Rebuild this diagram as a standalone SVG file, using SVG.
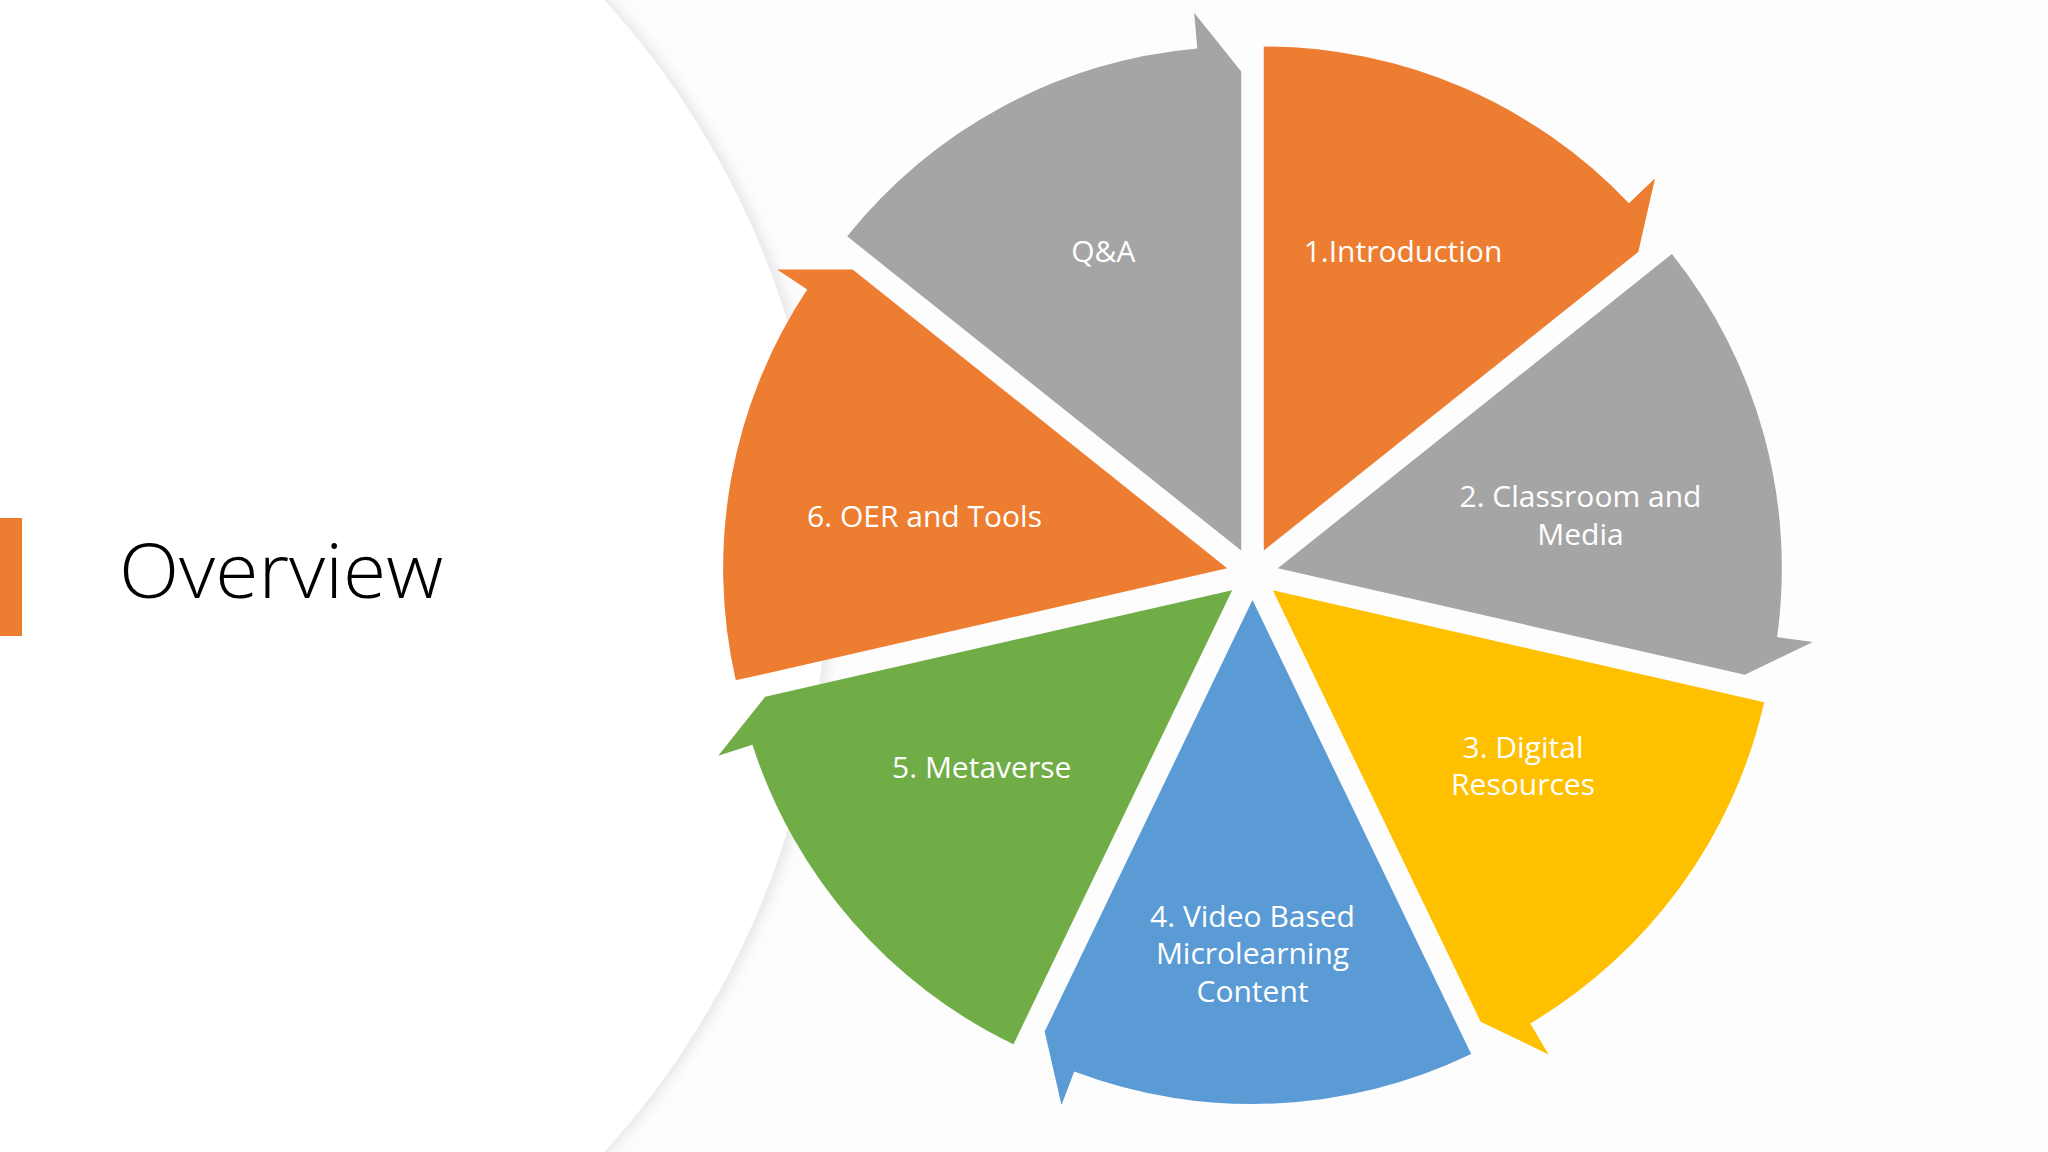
<svg xmlns="http://www.w3.org/2000/svg" width="2048" height="1152" viewBox="0 0 2048 1152">
  <defs>
    <filter id="circShadow" x="-10%" y="-10%" width="130%" height="120%">
      <feGaussianBlur in="SourceAlpha" stdDeviation="7"/>
      <feOffset dx="5" dy="0" result="b"/>
      <feFlood flood-color="#000" flood-opacity="0.10"/>
      <feComposite in2="b" operator="in"/>
      <feMerge><feMergeNode/><feMergeNode in="SourceGraphic"/></feMerge>
    </filter>
  </defs>
  <style>
    .lbl { font-family: "Open Sans", "Liberation Sans", sans-serif; font-size: 30px; fill: #FFFFFF; text-anchor: middle; }
    .title { font-family: "Open Sans", "Liberation Sans", sans-serif; font-weight: 300; font-size: 76px; fill: #000000; }
    .orange { fill: #ED7D31; }
    .gray { fill: #A5A5A5; }
    .gold { fill: #FFC000; }
    .blue { fill: #5B9BD5; }
    .green { fill: #70AD47; }
  </style>

  <rect x="0" y="0" width="2048" height="1152" fill="#FDFDFD"/>
  <circle id="bg-circle" cx="-33" cy="576" r="859" fill="#FFFFFF" filter="url(#circShadow)"/>

  <g id="title">
    <rect x="0" y="518" width="22" height="118" class="orange"/>
    <text x="119" y="598" class="title" textLength="324" lengthAdjust="spacingAndGlyphs">Overview</text>
  </g>

  <g id="node-intro">
    <path class="orange" d="M1263.78,550.57 L1263.78,46.57 A504,504 0 0 1 1628.95,203.17 L1655.03,178.36 L1638.28,251.92 Z"/>
    <text class="lbl" x="1403" y="262">1.Introduction</text>
  </g>

  <g id="node-classroom">
    <path class="gray" d="M1277.85,568.21 L1671.89,253.97 A504,504 0 0 1 1777.12,637.11 L1812.78,642.03 L1744.84,674.80 Z"/>
    <text class="lbl" x="1580.5" y="507">2. Classroom and</text>
    <text class="lbl" x="1580.5" y="545">Media</text>
  </g>

  <g id="node-digital">
    <path class="gold" d="M1272.83,590.21 L1764.19,702.36 A504,504 0 0 1 1530.25,1023.51 L1548.64,1054.46 L1480.66,1021.77 Z"/>
    <text class="lbl" x="1523" y="758">3. Digital</text>
    <text class="lbl" x="1523" y="795">Resources</text>
  </g>

  <g id="node-video">
    <path class="blue" d="M1252.5,600 L1471.18,1054.09 A504,504 0 0 1 1074.23,1071.42 L1061.50,1105.09 L1044.67,1031.56 Z"/>
    <text class="lbl" x="1252.5" y="927">4. Video Based</text>
    <text class="lbl" x="1252.5" y="964">Microlearning</text>
    <text class="lbl" x="1252.5" y="1002">Content</text>
  </g>

  <g id="node-metaverse">
    <path class="green" d="M1232.17,590.21 L1013.49,1044.30 A504,504 0 0 1 752.45,744.76 L718.18,755.80 L765.18,696.80 Z"/>
    <text class="lbl" x="981.7" y="778">5. Metaverse</text>
  </g>

  <g id="node-oer">
    <path class="orange" d="M1227.15,568.21 L735.79,680.36 A504,504 0 0 1 807.20,289.51 L777.21,269.60 L852.65,269.56 Z"/>
    <text class="lbl" x="924.5" y="527">6. OER and Tools</text>
  </g>

  <g id="node-qa">
    <path class="gray" d="M1241.22,550.57 L847.18,236.33 A504,504 0 0 1 1197.29,48.49 L1194.15,12.63 L1241.22,71.57 Z"/>
    <text class="lbl" x="1103.3" y="262">Q&amp;A</text>
  </g>
</svg>
